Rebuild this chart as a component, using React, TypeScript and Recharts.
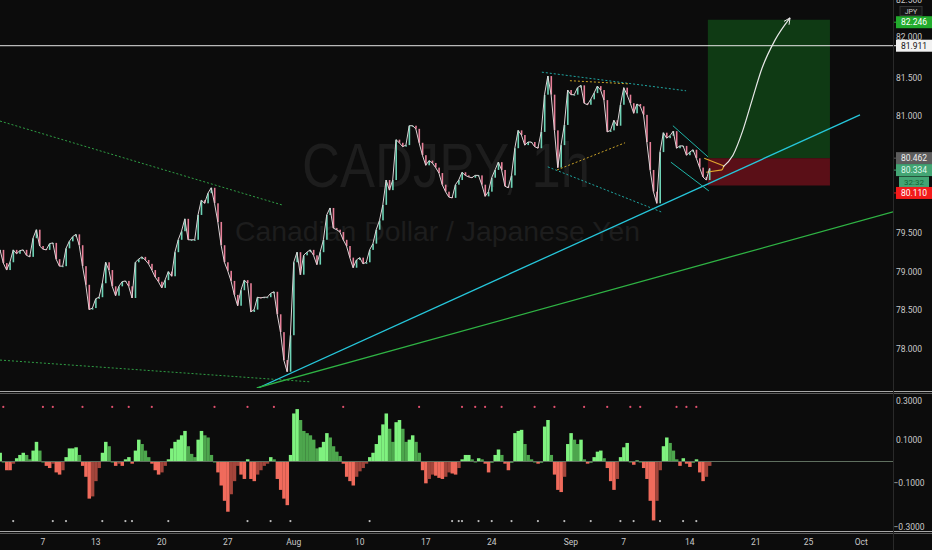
import React from "react";
import {
  ComposedChart,
  Bar,
  Line,
  Scatter,
  XAxis,
  YAxis,
  ReferenceLine,
  ReferenceArea,
} from "recharts";

// CADJPY 1h, sampled every quarter trading day (index 0 = Jul 2, 18:00)
const closes = [
  79.28, 79.11, 79.02, 79.12, 79.28, 79.23, 79.27, 79.28, 79.21, 79.19,
  79.43, 79.54, 79.33, 79.29, 79.28, 79.36, 79.37, 79.16, 79.07, 79.07,
  79.3, 79.39, 79.45, 79.48, 79.34, 79.07, 78.83, 78.51, 78.53, 78.65,
  78.67, 78.85, 79.12, 79.02, 78.81, 78.69, 78.81, 78.87, 78.88, 78.81,
  78.66, 79.12, 79.16, 79.19, 79.15, 79.1, 79.02, 78.93, 78.87, 78.79,
  78.89, 79.0, 78.94, 79.25, 79.41, 79.52, 79.68, 79.41, 79.41, 79.41,
  79.73, 79.92, 79.88, 80.01, 80.08, 79.88, 79.64, 79.34, 79.12, 79.01,
  78.88, 78.7, 78.56, 78.76, 78.89, 78.85, 78.48, 78.51, 78.67, 78.66,
  78.67, 78.67, 78.72, 78.74, 78.45, 78.22, 77.86, 77.71, 78.18, 79.12,
  79.25, 78.96, 79.21, 79.25, 79.28, 79.21, 79.09, 79.25, 79.41, 79.73,
  79.82, 79.56, 79.54, 79.51, 79.41, 79.33, 79.18, 79.05, 79.15, 79.18,
  79.1, 79.12, 79.28, 79.36, 79.54, 79.66, 79.86, 80.18, 80.05, 80.18,
  80.7, 80.66, 80.61, 80.63, 80.88, 80.88, 80.84, 80.66, 80.5, 80.37,
  80.43, 80.4, 80.34, 80.27, 80.12, 80.03, 79.96, 79.95, 80.12, 80.18,
  80.28, 80.24, 80.22, 80.21, 80.24, 80.24, 80.12, 79.97, 80.03, 80.21,
  80.31, 80.41, 80.31, 80.1, 80.08, 80.24, 80.59, 80.82, 80.76, 80.63,
  80.67, 80.67, 80.61, 80.59, 80.8, 81.28, 81.52, 81.28, 80.82, 80.34,
  80.63, 80.89, 81.34, 81.28, 81.28, 81.37, 81.4, 81.17, 81.15, 81.22,
  81.3, 81.39, 81.34, 81.21, 80.8, 80.82, 80.95, 80.88, 81.15, 81.37,
  81.28, 81.17, 81.04, 81.16, 81.13, 81.02, 80.67, 80.31, 80.03, 79.88,
  80.54, 80.79, 80.72, 80.75, 80.81, 80.59, 80.62, 80.62, 80.5, 80.54,
  80.57, 80.46, 80.34, 80.22, 80.18, 80.33,
];

// momentum histogram, same sampling
const momentum = [
  0.04, 0, -0.04, -0.04, -0.01, 0.015, 0.03, 0.04, 0.03, 0.01,
  0.05, 0.09, 0.05, 0, -0.02, -0.03, -0.01, -0.05, -0.06, -0.04,
  0.02, 0.06, 0.06, 0.065, 0.03, -0.02, -0.07, -0.17, -0.16, -0.09,
  -0.03, 0.04, 0.09, 0.07, 0, -0.02, -0.01, -0.02, 0.01, 0.02,
  -0.01, 0.05, 0.1, 0.08, 0.05, 0.02, -0.01, -0.04, -0.06, -0.05,
  -0.02, 0.01, 0.06, 0.09, 0.1, 0.12, 0.14, 0.07, 0.035, 0.02,
  0.1, 0.14, 0.12, 0.11, 0.03, 0, -0.05, -0.11, -0.18, -0.23,
  -0.15, -0.09, -0.02, -0.06, -0.08, 0.01, -0.08, -0.09, -0.06, -0.04,
  -0.02, -0.01, 0.02, 0.01, -0.08, -0.13, -0.17, -0.2, 0.03, 0.22,
  0.24, 0.19, 0.14, 0.13, 0.12, 0.1, 0.06, 0.065, 0.09, 0.13,
  0.11, 0.07, 0.045, 0.025, -0.01, -0.07, -0.09, -0.11, -0.07, -0.045,
  -0.03, -0.01, 0.02, 0.04, 0.08, 0.12, 0.17, 0.22, 0.15, 0.09,
  0.18, 0.19, 0.15, 0.09, 0.1, 0.12, 0.09, 0.04, -0.04, -0.1,
  -0.08, -0.06, -0.065, -0.075, -0.08, -0.07, -0.05, -0.055, -0.06, -0.03,
  0.01, 0.03, 0.03, 0.01, 0, 0.015, 0.01, -0.01, -0.05, 0,
  0.03, 0.055, 0.03, -0.01, -0.04, 0, 0.13, 0.14, 0.145, 0.08,
  0.03, 0.01, 0, -0.01, 0, 0.16, 0.19, 0.03, -0.06, -0.13,
  -0.14, -0.07, 0.08, 0.13, 0.1, 0.08, 0.1, 0.01, -0.01, 0,
  0.02, 0.045, 0.05, 0.015, -0.03, -0.09, -0.13, -0.08, 0.02, 0.065,
  0.085, 0, -0.015, 0.005, 0, -0.03, -0.08, -0.18, -0.27, -0.18,
  -0.04, 0.07, 0.11, 0.085, 0.05, 0.01, -0.02, 0.015, -0.01, -0.025,
  0, 0.01, -0.05, -0.09, -0.07, -0.02,
];

// squeeze dots (bar index)
const topDots = [1, 13, 16, 25, 34, 39, 46, 65, 75, 83, 104, 127, 140, 144, 147, 152, 162, 168, 177, 184, 191, 194, 205, 208, 211];
const bottomDots = [4, 16, 20, 31, 38, 40, 51, 75, 82, 88, 112, 137, 139, 140, 145, 149, 155, 163, 171, 179, 188, 192, 200, 207, 211];

const tickIdx = [13, 29, 49, 69, 89, 109, 129, 149, 173, 189, 209, 229, 245, 261];
const tickLabels = ["7", "13", "20", "27", "Aug", "10", "17", "24", "Sep", "7", "14", "21", "25", "Oct"];

// 80.000 and 80.500 sit under the price badges; 82.500 is drawn with the unit label
const priceTicks = [77.5, 78, 78.5, 79, 79.5, 81, 81.5, 82];
const priceTop = 82.5;
const momTicks = [-0.3, -0.2, -0.1, 0, 0.1, 0.2, 0.3];

// long position tool
const entry = 80.462;
const stop = 80.11;
const target = 82.246;
const resistance = 81.911;
const lastPrice = 80.334;
const boxFrom = 214.5;
const boxTo = 251.5;

// projected path drawing
const projIdx = [219.1, 222.1, 225.1, 227.9, 230.9, 234.8, 239.4];
const projPrice = [80.35, 80.5, 80.82, 81.21, 81.62, 81.98, 82.27];

// trend line drawings [idx, price]
const drawings = [
  { a: [0, 80.94], b: [85.4, 79.86], color: "#2f9e44", dash: "2 2", w: 1 },
  { a: [0, 77.86], b: [93.9, 77.58], color: "#2f9e44", dash: "2 2", w: 1 },
  { a: [78.2, 77.5], b: [260.6, 81.02], color: "#26c6da", dash: undefined, w: 1.3 },
  { a: [77.8, 77.5], b: [270.6, 79.77], color: "#2fb344", dash: undefined, w: 1.3 },
  { a: [164.2, 81.57], b: [207.9, 81.33], color: "#1fa5a0", dash: "2 2", w: 1 },
  { a: [166, 80.35], b: [200.9, 79.76], color: "#1fa5a0", dash: "2 2", w: 1 },
  { a: [172.7, 81.46], b: [190.3, 81.42], color: "#c9a227", dash: "2 2", w: 1 },
  { a: [168.8, 80.31], b: [189.4, 80.66], color: "#c9a227", dash: "2 2", w: 1 },
  { a: [203.9, 80.88], b: [214.5, 80.48], color: "#1fb5a8", dash: undefined, w: 1 },
  { a: [203.3, 80.41], b: [214.8, 80.04], color: "#1fb5a8", dash: undefined, w: 1 },
  { a: [213.4, 80.46], b: [219.4, 80.36], color: "#e0a82e", dash: undefined, w: 1.2 },
  { a: [214, 80.28], b: [218.8, 80.31], color: "#e0a82e", dash: undefined, w: 1.2 },
  { a: [219.4, 80.36], b: [218.8, 80.31], color: "#e0a82e", dash: undefined, w: 1.2 },
];

const BG = "#0c0c0c";
const FONT = "Roboto, 'Liberation Sans', sans-serif";
const X_DOMAIN: [number, number] = [0, 270.6];
const AXIS_X = 893;

const priceRows = closes.map((c, i) => {
  const prev = i === 0 ? c : closes[i - 1];
  return {
    i,
    close: c,
    range: [Math.min(prev, c), Math.max(prev, c)],
    fill: c >= prev ? "#6ed3b6" : "#e77f98",
  };
});

const momRows = momentum.map((v, i) => {
  const prev = i === 0 ? v : momentum[i - 1];
  let fill;
  if (v >= 0) fill = v >= prev ? "#7ff27f" : "#4da64d";
  else fill = v <= prev ? "#f06b5c" : "#a3453b";
  return { i, v, fill };
});

const projRows = projIdx.map((i, k) => ({ i, p: projPrice[k] }));
const topDotRows = topDots.map((i) => ({ i, v: 0.25 }));
const bottomDotRows = bottomDots.map((i) => ({ i, v: -0.273 }));

const axisText = { fontSize: 8.5, fill: "#c9c9c9", fontFamily: FONT };

const PriceTick = (p: any) => {
  const v = p.payload.value;
  const dy = v === 82 ? 1 : v === 77.5 ? 1.5 : 3;
  return (
    <text x={AXIS_X + 16} y={p.y} dy={dy} textAnchor="middle" {...axisText}>
      {v.toFixed(3)}
    </text>
  );
};

const MomTick = (p: any) => {
  const v = p.payload.value;
  const s = (v < 0 ? "\u2212" : "") + Math.abs(v).toFixed(4);
  return (
    <text x={AXIS_X + 16} y={p.y} dy={3} textAnchor="middle" {...axisText}>
      {s}
    </text>
  );
};

// fixed-width bars centred on their slot
const slotBar = (w: number) => (p: any) => {
  const { x, y, width, height, payload } = p;
  if (x == null || y == null) return <g />;
  const cx = x + width / 2;
  const h = Math.max(Math.abs(height), 1);
  const top = height < 0 ? y + height : y;
  return <rect x={cx - w / 2} y={top} width={w} height={h} fill={payload.fill} />;
};

const badge =
  (text: string, bg: string, fg: string, dy = 0, extra?: string) =>
  (props: any) => {
    const vb = props.viewBox || {};
    const x = AXIS_X;
    const y = (vb.y || 0) + dy;
    return (
      <g>
        <line x1={x} x2={x + 4} y1={y} y2={y} stroke={bg} />
        <rect x={x + 3} y={y - 6} width={36} height={12} fill={bg} />
        <text x={x + 21} y={y + 3} textAnchor="middle" fontSize={8.5} fontFamily={FONT} fill={fg}>
          {text}
        </text>
        {extra && (
          <g>
            <rect x={x + 6} y={y + 6.5} width={30} height={11} fill={bg} />
            <text x={x + 21} y={y + 15} textAnchor="middle" fontSize={8} fontFamily={FONT} fill="#163">
              {extra}
            </text>
          </g>
        )}
      </g>
    );
  };

// top price label (cut by the pane edge) and the currency box under it
const unitLabel = (props: any) => {
  const vb = props.viewBox || {};
  const y0 = vb.y || 0;
  return (
    <g>
      <text x={AXIS_X + 16} y={y0 + 3} textAnchor="middle" {...axisText}>
        {priceTop.toFixed(3)}
      </text>
      <rect x={AXIS_X + 7} y={y0 + 6.5} width={22} height={9} fill="#151515" stroke="#333" />
      <text x={AXIS_X + 18} y={y0 + 13.5} textAnchor="middle" fontSize={7} fontFamily={FONT} fill="#c9c9c9">
        JPY
      </text>
    </g>
  );
};

const ArrowDot = (props: any) => {
  const { cx, cy, index, points } = props;
  if (index !== projRows.length - 1 || !points || index < 1) return <g key={index} />;
  const prev = points[index - 1];
  const ang = Math.atan2(cy - prev.y, cx - prev.x);
  const len = 7;
  const a1 = ang + Math.PI - 0.45;
  const a2 = ang + Math.PI + 0.45;
  return (
    <g key={index}>
      <line x1={cx} y1={cy} x2={cx + len * Math.cos(a1)} y2={cy + len * Math.sin(a1)} stroke="#e8e8e8" />
      <line x1={cx} y1={cy} x2={cx + len * Math.cos(a2)} y2={cy + len * Math.sin(a2)} stroke="#e8e8e8" />
    </g>
  );
};

const SmallDot = (color: string) => (p: any) => <circle cx={p.cx} cy={p.cy} r={1.1} fill={color} />;

export default function App() {
  return (
    <div
      style={{
        position: "fixed",
        left: 0,
        top: 0,
        width: 932,
        height: 550,
        background: BG,
        overflow: "hidden",
        fontFamily: FONT,
      }}
    >
      {/* watermark */}
      <svg width={932} height={392} style={{ position: "absolute", left: 0, top: 0 }}>
        <text
          x={302}
          y={187}
          fontSize={63}
          fontFamily="'Liberation Sans', Roboto, sans-serif"
          fill="#1d1d1d"
          textLength={288}
          lengthAdjust="spacingAndGlyphs"
        >
          CADJPY, 1h
        </text>
        <text
          x={235}
          y={241}
          fontSize={28}
          fontFamily="'Liberation Sans', Roboto, sans-serif"
          fill="#1d1d1d"
          textLength={405}
          lengthAdjust="spacingAndGlyphs"
        >
          Canadian Dollar / Japanese Yen
        </text>
      </svg>

      <div style={{ position: "absolute", left: 0, top: 0 }}>
        <ComposedChart width={932} height={392} data={priceRows} margin={{ top: 0, right: 0, bottom: 4, left: 0 }}>
          <XAxis dataKey="i" type="number" domain={X_DOMAIN} allowDataOverflow hide />
          <YAxis
            orientation="right"
            width={39}
            domain={[77.5, priceTop]}
            ticks={priceTicks}
            allowDataOverflow
            axisLine={false}
            tickLine={false}
            tick={PriceTick}
          />
          <ReferenceArea x1={boxFrom} x2={boxTo} y1={entry} y2={target} fill="#0f3a14" fillOpacity={1} stroke="none" ifOverflow="visible" />
          <ReferenceArea x1={boxFrom} x2={boxTo} y1={stop} y2={entry} fill="#5a0f17" fillOpacity={1} stroke="none" ifOverflow="visible" />
          {drawings.map((d, k) => (
            <ReferenceLine
              key={k}
              segment={[
                { x: d.a[0], y: d.a[1] },
                { x: d.b[0], y: d.b[1] },
              ]}
              stroke={d.color}
              strokeWidth={d.w}
              strokeDasharray={d.dash}
              ifOverflow="hidden"
            />
          ))}
          <ReferenceLine y={resistance} stroke="#e6e6e6" strokeWidth={1} label={badge("81.911", "#f2f2f2", "#111")} />
          <Line dataKey="close" stroke="#ddd3d6" strokeWidth={1} dot={false} activeDot={false} isAnimationActive={false} />
          <Bar dataKey="range" shape={slotBar(1.6)} isAnimationActive={false} />
          <Line
            data={projRows}
            dataKey="p"
            type="monotone"
            stroke="#e8e8e8"
            strokeWidth={1.2}
            dot={ArrowDot}
            activeDot={false}
            isAnimationActive={false}
          />
          <ReferenceLine y={priceTop} stroke="none" label={unitLabel} />
          <ReferenceLine y={target} stroke="none" label={badge("82.246", "#22ab2d", "#ffffff", 2.5)} />
          <ReferenceLine y={entry} stroke="none" label={badge("80.462", "#5d5d5d", "#eeeeee")} />
          <ReferenceLine y={lastPrice} stroke="none" label={badge("80.334", "#43a574", "#dff7ea", 2, "32:32")} />
          <ReferenceLine y={stop} stroke="none" label={badge("80.110", "#f21b1b", "#ffffff", 7.5)} />
        </ComposedChart>
      </div>

      <div style={{ position: "absolute", left: 0, top: 392 }}>
        <ComposedChart width={932} height={158} data={momRows} margin={{ top: 4, right: 0, bottom: 0, left: 0 }}>
          <XAxis
            dataKey="i"
            type="number"
            domain={X_DOMAIN}
            allowDataOverflow
            ticks={tickIdx}
            interval={0}
            tickFormatter={(v: number) => tickLabels[tickIdx.indexOf(v)]}
            axisLine={false}
            tickLine={false}
            tickMargin={6}
            height={23}
            tick={axisText}
          />
          <YAxis
            orientation="right"
            width={39}
            domain={[-0.3, 0.3]}
            ticks={momTicks}
            allowDataOverflow
            axisLine={false}
            tickLine={false}
            tick={MomTick}
          />
          <ReferenceLine y={0} stroke="#5f6f5f" />
          <Bar dataKey="v" shape={slotBar(3.5)} isAnimationActive={false} />
          <Scatter data={topDotRows} dataKey="v" shape={SmallDot("#e0506e")} isAnimationActive={false} />
          <Scatter data={bottomDotRows} dataKey="v" shape={SmallDot("#bdbdbd")} isAnimationActive={false} />
        </ComposedChart>
      </div>

      {/* pane separators */}
      <div style={{ position: "absolute", left: 0, top: 391, width: 932, height: 1, background: "#a8a8a8" }} />
      <div style={{ position: "absolute", left: 0, top: 393, width: 932, height: 1, background: "#5a5a5a" }} />
      <div style={{ position: "absolute", left: 0, top: 531, width: 932, height: 1, background: "#a8a8a8" }} />
      <div style={{ position: "absolute", left: 0, top: 533, width: 932, height: 1, background: "#5a5a5a" }} />
      <div style={{ position: "absolute", left: AXIS_X, top: 0, width: 1, height: 550, background: "#2a2a2a" }} />
    </div>
  );
}
